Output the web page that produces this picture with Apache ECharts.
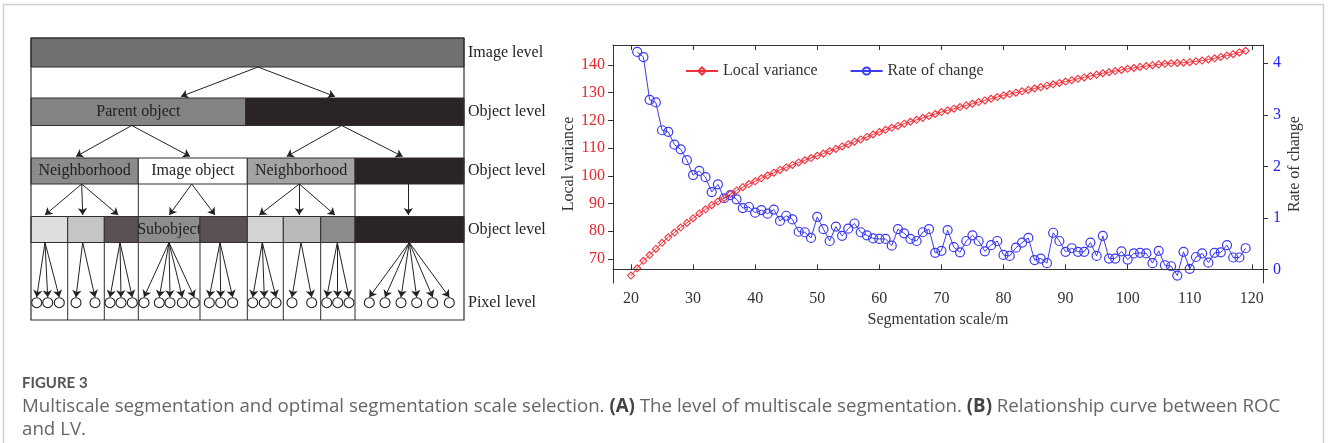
<!DOCTYPE html>
<html>
<head>
<meta charset="utf-8">
<title>Figure 3</title>
<script src="https://cdn.jsdelivr.net/npm/echarts@6/dist/echarts.min.js"></script>
<style>
  html, body { margin: 0; padding: 0; background: #fff; }
  #chart { width: 1328px; height: 443px; }
</style>
</head>
<body>
<div id="chart"></div>
<script>
// ---- (B) curve data ----
const scaleLV = [20,21,22,23,24,25,26,27,28,29,30,31,32,33,34,35,36,37,38,39,40,41,42,43,44,45,46,47,48,49,
  50,51,52,53,54,55,56,57,58,59,60,61,62,63,64,65,66,67,68,69,70,71,72,73,74,75,76,77,78,79,
  80,81,82,83,84,85,86,87,88,89,90,91,92,93,94,95,96,97,98,99,100,101,102,103,104,105,106,107,108,109,
  110,111,112,113,114,115,116,117,118,119];
const localVariance = [64.0,66.6,69.3,71.4,73.6,75.8,77.8,79.5,81.3,83.0,84.7,86.4,87.9,89.4,90.7,91.9,93.4,94.7,95.9,97.0,
  98.0,99.1,100.1,101.1,102.1,103.0,103.9,104.8,105.6,106.4,107.2,108.0,108.9,109.7,110.6,111.4,112.3,113.1,114.0,114.9,
  115.8,116.6,117.3,118.0,118.8,119.5,120.2,120.9,121.6,122.3,123.0,123.6,124.2,124.8,125.4,126.0,126.6,127.2,127.8,128.4,
  129.0,129.5,130.0,130.5,131.0,131.5,132.0,132.5,133.0,133.5,134.0,134.5,135.0,135.5,136.0,136.5,137.0,137.4,137.8,138.2,
  138.6,138.9,139.3,139.6,139.9,140.2,140.4,140.6,140.7,140.8,141.0,141.3,141.6,142.0,142.4,142.9,143.4,143.9,144.5,145.1];
const scaleROC = scaleLV.slice(1);
const rateOfChange = [4.22,4.12,3.29,3.24,2.70,2.67,2.42,2.33,2.12,1.83,1.91,1.79,1.50,1.65,1.38,1.44,1.36,1.19,1.21,1.10,
  1.15,1.08,1.16,0.94,1.04,0.97,0.73,0.72,0.61,1.02,0.78,0.55,0.83,0.65,0.79,0.89,0.72,0.66,0.60,0.59,
  0.59,0.46,0.78,0.70,0.59,0.55,0.72,0.78,0.32,0.36,0.76,0.43,0.33,0.55,0.66,0.55,0.35,0.47,0.55,0.28,
  0.26,0.42,0.52,0.61,0.18,0.21,0.12,0.71,0.55,0.34,0.41,0.34,0.34,0.52,0.26,0.65,0.21,0.21,0.35,0.19,
  0.31,0.32,0.31,0.12,0.36,0.08,0.06,-0.12,0.34,0.01,0.24,0.31,0.13,0.32,0.33,0.47,0.23,0.23,0.41];

const xTicks = [20,30,40,50,60,70,80,90,100,110,120];
const lvTicks = [70,80,90,100,110,120,130,140];
const rocTicks = [0,1,2,3,4];

// ---- (A) hierarchy diagram, in diagram units ----
const rowBands = [[0, 29], [60, 87.5], [120, 146], [178.5, 204.5]];
const boxBottom = 282;
const boxRight = 433;
// [row, x0, x1, fill, text]
const segments = [
  [0, 0, 433, '#707070', ''],
  [1, 0, 214.7, '#838383', 'Parent object'],
  [1, 214.7, 433, '#2b2424', ''],
  [2, 0, 107.3, '#8b8b8b', 'Neighborhood'],
  [2, 107.3, 216.3, '#ffffff', 'Image object'],
  [2, 216.3, 324, '#a3a3a3', 'Neighborhood'],
  [2, 324, 433, '#2b2424', ''],
  [3, 0, 36.7, '#dedede', ''],
  [3, 36.7, 73.3, '#c5c5c5', ''],
  [3, 73.3, 107.3, '#5a5252', ''],
  [3, 107.3, 169, '#8d8d8d', 'Subobject'],
  [3, 169, 216.3, '#5a5252', ''],
  [3, 216.3, 252.3, '#d4d4d4', ''],
  [3, 252.3, 289.7, '#bababa', ''],
  [3, 289.7, 324, '#8b8b8b', ''],
  [3, 324, 433, '#2b2424', '']
];
// [origin, targets]
const arrowFans = [
  [[227, 29], [[150, 58.5], [304, 58.5]]],
  [[100.7, 87.5], [[45, 118.5], [159, 118.5]]],
  [[310.7, 87.5], [[255.7, 118.5], [371.7, 118.5]]],
  [[50.7, 146], [[14, 177], [51.7, 177], [87.3, 177]]],
  [[160.7, 146], [[138.3, 177], [184, 177]]],
  [[268.3, 146], [[228.3, 177], [268.3, 177], [304, 177]]],
  [[377.3, 146], [[377.3, 177]]]
];
const pixelRowY = 264.7;
const pixelGroups = [
  [14, [5.7, 16.7, 28.3]],
  [51.7, [45, 64]],
  [89, [79, 90, 101.3]],
  [138, [113, 128.3, 139, 151.3, 163.3]],
  [189, [178.3, 189.7, 201.7]],
  [231.3, [221.7, 233.3, 245]],
  [270, [261, 280.7]],
  [306.3, [295.7, 306.7, 318]],
  [378.3, [338.3, 354, 370, 385.7, 401.7, 418.3]]
];
const levelLabels = ['Image level', 'Object level', 'Object level', 'Object level', 'Pixel level'];

const serif = '"Liberation Serif", "Times New Roman", serif';
const lvColor = '#f0323c';
const rocColor = '#3a3af2';

// diagram helpers built from the arrays above
const segData = segments.map(s => [s[1], rowBands[s[0]][0], s[2], rowBands[s[0]][1]]);
const dividerData = [];
segments.filter(s => s[0] === 2 && s[1] > 0).forEach(s => dividerData.push([s[1], rowBands[2][1], rowBands[3][0]]));
segments.filter(s => s[0] === 3 && s[1] > 0).forEach(s => dividerData.push([s[1], rowBands[3][1], boxBottom]));
const arrowData = [];
arrowFans.forEach(f => f[1].forEach(t => arrowData.push({ coords: [f[0], t] })));
const circleData = [];
pixelGroups.forEach(g => g[1].forEach(cx => {
  circleData.push([cx, pixelRowY]);
  arrowData.push({ coords: [[g[0], rowBands[3][1]], [cx, pixelRowY - 5.5]] });
}));
const labelYs = rowBands.map(b => (b[0] + b[1]) / 2).concat([pixelRowY]);
const labelData = levelLabels.map((t, i) => [437, labelYs[i]]);

const chart = echarts.init(document.getElementById('chart'));

const option = {
  backgroundColor: '#fff',
  animation: false,
  grid: [
    { left: 613, top: 45, width: 650, height: 238 },
    { left: 31, top: 38, width: 520, height: 282 }
  ],
  legend: {
    left: 680,
    top: 58,
    itemWidth: 32,
    itemHeight: 9,
    itemGap: 32,
    textStyle: { fontFamily: serif, fontSize: 16, color: '#333' },
    data: ['Local variance', 'Rate of change']
  },
  xAxis: [
    {
      gridIndex: 0, type: 'value', position: 'bottom', min: 17.1, max: 121.8,
      name: 'Segmentation scale/m', nameLocation: 'middle', nameGap: 22,
      nameTextStyle: { fontFamily: serif, fontSize: 16, color: '#333', verticalAlign: 'top' },
      axisLine: { lineStyle: { color: '#333' } },
      axisTick: { show: true, inside: true, length: 5, customValues: xTicks, lineStyle: { color: '#333' } },
      axisLabel: { customValues: xTicks, fontFamily: serif, fontSize: 16, color: '#333', margin: 8 },
      splitLine: { show: false }
    },
    {
      gridIndex: 0, type: 'value', position: 'top', min: 17.1, max: 121.8,
      axisLine: { lineStyle: { color: '#333' } },
      axisTick: { show: true, inside: true, length: 5, customValues: xTicks, lineStyle: { color: '#333' } },
      axisLabel: { show: false },
      splitLine: { show: false }
    },
    { gridIndex: 1, type: 'value', min: 0, max: 520, show: false }
  ],
  yAxis: [
    {
      gridIndex: 0, type: 'value', position: 'left', min: 61.3, max: 147.2,
      name: 'Local variance', nameLocation: 'middle', nameGap: 33,
      nameTextStyle: { fontFamily: serif, fontSize: 16, color: '#333' },
      axisLine: { show: true, lineStyle: { color: '#333' } },
      axisTick: { show: true, length: 5, customValues: lvTicks, lineStyle: { color: '#333' } },
      axisLabel: { customValues: lvTicks, fontFamily: serif, fontSize: 16, color: '#e8262b', margin: 8 },
      splitLine: { show: false }
    },
    {
      gridIndex: 0, type: 'value', position: 'right', min: -0.265, max: 4.355,
      name: 'Rate of change', nameLocation: 'middle', nameGap: 24,
      nameTextStyle: { fontFamily: serif, fontSize: 16, color: '#333' },
      axisLine: { show: true, lineStyle: { color: '#333' } },
      axisTick: { show: true, length: 5, customValues: rocTicks, lineStyle: { color: '#333' } },
      axisLabel: { customValues: rocTicks, fontFamily: serif, fontSize: 16, color: '#2222ff', margin: 10 },
      splitLine: { show: false }
    },
    { gridIndex: 1, type: 'value', min: 0, max: 282, inverse: true, show: false }
  ],
  series: [
    {
      name: 'Rate of change', type: 'line', xAxisIndex: 0, yAxisIndex: 1,
      data: scaleROC.map((x, i) => [x, rateOfChange[i]]),
      symbol: 'circle', symbolSize: 9,
      itemStyle: { color: 'rgba(255,255,255,0)', borderColor: rocColor, borderWidth: 1.2 },
      lineStyle: { color: rocColor, width: 1 },
      markLine: {
        silent: true, symbol: 'none', label: { show: false },
        lineStyle: { color: '#333', type: 'solid', width: 1 },
        data: [{ yAxis: 0 }]
      }
    },
    {
      name: 'Local variance', type: 'line', xAxisIndex: 0, yAxisIndex: 0,
      data: scaleLV.map((x, i) => [x, localVariance[i]]),
      symbol: 'diamond', symbolSize: 7,
      itemStyle: { color: 'rgba(255,255,255,0)', borderColor: lvColor, borderWidth: 1.1 },
      lineStyle: { color: lvColor, width: 1 }
    },
    {
      type: 'custom', xAxisIndex: 2, yAxisIndex: 2, silent: true,
      data: segData,
      encode: { x: [0, 2], y: [1, 3] },
      renderItem: function (params, api) {
        const s = segments[params.dataIndex];
        const p0 = api.coord([api.value(0), api.value(1)]);
        const p1 = api.coord([api.value(2), api.value(3)]);
        return {
          type: 'group',
          children: [
            { type: 'rect', shape: { x: p0[0], y: p0[1], width: p1[0] - p0[0], height: p1[1] - p0[1] },
              style: { fill: s[3], stroke: '#332d2d', lineWidth: 1 } },
            { type: 'text', x: (p0[0] + p1[0]) / 2, y: (p0[1] + p1[1]) / 2,
              style: { text: s[4], fill: '#222', fontFamily: serif, fontSize: 16, align: 'center', verticalAlign: 'middle' } }
          ]
        };
      }
    },
    {
      type: 'custom', xAxisIndex: 2, yAxisIndex: 2, silent: true,
      data: dividerData,
      encode: { x: 0, y: [1, 2] },
      renderItem: function (params, api) {
        const a = api.coord([api.value(0), api.value(1)]);
        const b = api.coord([api.value(0), api.value(2)]);
        return { type: 'line', shape: { x1: a[0], y1: a[1], x2: b[0], y2: b[1] }, style: { stroke: '#332d2d', lineWidth: 1 } };
      }
    },
    {
      type: 'custom', xAxisIndex: 2, yAxisIndex: 2, silent: true,
      data: [[0, 0, boxRight, boxBottom]],
      encode: { x: [0, 2], y: [1, 3] },
      renderItem: function (params, api) {
        const p0 = api.coord([api.value(0), api.value(1)]);
        const p1 = api.coord([api.value(2), api.value(3)]);
        return { type: 'rect', shape: { x: p0[0], y: p0[1], width: p1[0] - p0[0], height: p1[1] - p0[1] },
          style: { fill: null, stroke: '#332d2d', lineWidth: 1.2 } };
      }
    },
    {
      type: 'lines', coordinateSystem: 'cartesian2d', xAxisIndex: 2, yAxisIndex: 2, silent: true,
      symbol: ['none', 'arrow'], symbolSize: 7,
      lineStyle: { color: '#222', width: 1, opacity: 1 },
      data: arrowData
    },
    {
      type: 'custom', xAxisIndex: 2, yAxisIndex: 2, silent: true,
      data: circleData,
      renderItem: function (params, api) {
        const c = api.coord([api.value(0), api.value(1)]);
        return { type: 'circle', shape: { cx: c[0], cy: c[1], r: 5 }, style: { fill: '#fff', stroke: '#222', lineWidth: 1.1 } };
      }
    },
    {
      type: 'custom', xAxisIndex: 2, yAxisIndex: 2, silent: true,
      data: labelData,
      renderItem: function (params, api) {
        const c = api.coord([api.value(0), api.value(1)]);
        return { type: 'text', x: c[0], y: c[1],
          style: { text: levelLabels[params.dataIndex], fill: '#222', fontFamily: serif, fontSize: 16, align: 'left', verticalAlign: 'middle' } };
      }
    }
  ],
  graphic: [
    { type: 'polyline', silent: true, shape: { points: [[3.5, 443], [3.5, 4.5], [1323.5, 4.5], [1323.5, 443]] },
      style: { stroke: '#d2d2d2', lineWidth: 1.5, fill: null } },
    { type: 'text', left: 22, top: 376,
      style: { text: 'FIGURE 3', fontFamily: 'Lato', fontWeight: 'bold', fontSize: 15, fill: '#555' } },
    { type: 'text', left: 22, top: 397,
      style: {
        text: 'Multiscale segmentation and optimal segmentation scale selection. {b|(A)} The level of multiscale segmentation. {b|(B)} Relationship curve between ROC',
        fontFamily: '"Open Sans"', fontSize: 18.7, fill: '#666',
        rich: { b: { fontFamily: '"Open Sans"', fontSize: 18.7, fontWeight: 'bold', fill: '#444' } }
      } },
    { type: 'text', left: 22, top: 420,
      style: { text: 'and LV.', fontFamily: '"Open Sans"', fontSize: 18.7, fill: '#666' } }
  ]
};

chart.setOption(option);
</script>
</body>
</html>
